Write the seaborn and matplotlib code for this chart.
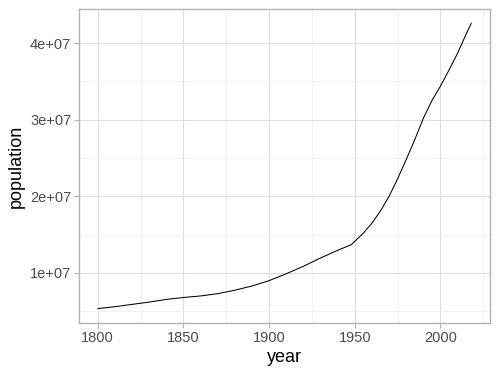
import matplotlib
matplotlib.use("Agg")
import matplotlib.pyplot as plt
import seaborn as sns
import pandas as pd
import numpy as np
from matplotlib.ticker import MultipleLocator, FuncFormatter

years = [1800, 1810, 1820, 1830, 1840, 1850, 1860, 1870, 1880, 1890, 1900, 1910, 1920,
         1930, 1940, 1948, 1955, 1960, 1965, 1970, 1975, 1980, 1985, 1990, 1995, 2000,
         2005, 2010, 2015, 2018]
population = [5.35e6, 5.6e6, 5.9e6, 6.2e6, 6.55e6, 6.8e6, 7.0e6, 7.3e6, 7.75e6, 8.3e6,
              9.0e6, 9.9e6, 1.087e7, 1.196e7, 1.296e7, 1.37e7, 1.52e7, 1.65e7, 1.81e7,
              2.0e7, 2.23e7, 2.48e7, 2.74e7, 3.02e7, 3.25e7, 3.44e7, 3.65e7, 3.87e7,
              4.12e7, 4.26e7]

df = pd.DataFrame({"year": years, "population": population})

sns.set_theme(style="white")
plt.rcParams["font.family"] = ["Liberation Sans", "DejaVu Sans"]

fig = plt.figure(figsize=(5, 3.75), dpi=100)
ax = fig.add_axes([0.158, 0.139, 0.822, 0.837])
sns.lineplot(data=df, x="year", y="population", color="black", linewidth=0.75, ax=ax)

xmin, xmax = min(years), max(years)
ymin, ymax = min(population), max(population)
xr, yr = xmax - xmin, ymax - ymin
ax.set_xlim(xmin - 0.05 * xr, xmax + 0.05 * xr)
ax.set_ylim(ymin - 0.05 * yr, ymax + 0.05 * yr)

ax.xaxis.set_major_locator(MultipleLocator(50))
ax.xaxis.set_minor_locator(MultipleLocator(25))
ax.yaxis.set_major_locator(MultipleLocator(1e7))
ax.yaxis.set_minor_locator(MultipleLocator(5e6))
ax.yaxis.set_major_formatter(FuncFormatter(lambda v, p: f"{int(round(v/1e7))}e+07"))

ax.grid(which="major", color="#DEDEDE", linewidth=0.8)
ax.grid(which="minor", color="#EFEFEF", linewidth=0.6)
ax.set_axisbelow(True)
for s in ax.spines.values():
    s.set_color("#B3B3B3")
    s.set_linewidth(1.0)
ax.tick_params(which="major", length=3.5, width=0.8, color="#B3B3B3",
               labelsize=10.5, labelcolor="#4D4D4D", pad=2, bottom=True, left=True)
ax.tick_params(which="minor", length=0)
ax.set_xlabel("year", fontsize=13, color="black", labelpad=3)
ax.set_ylabel("population", fontsize=13, color="black", labelpad=4)

fig.savefig("out.png", dpi=100, facecolor="white")
